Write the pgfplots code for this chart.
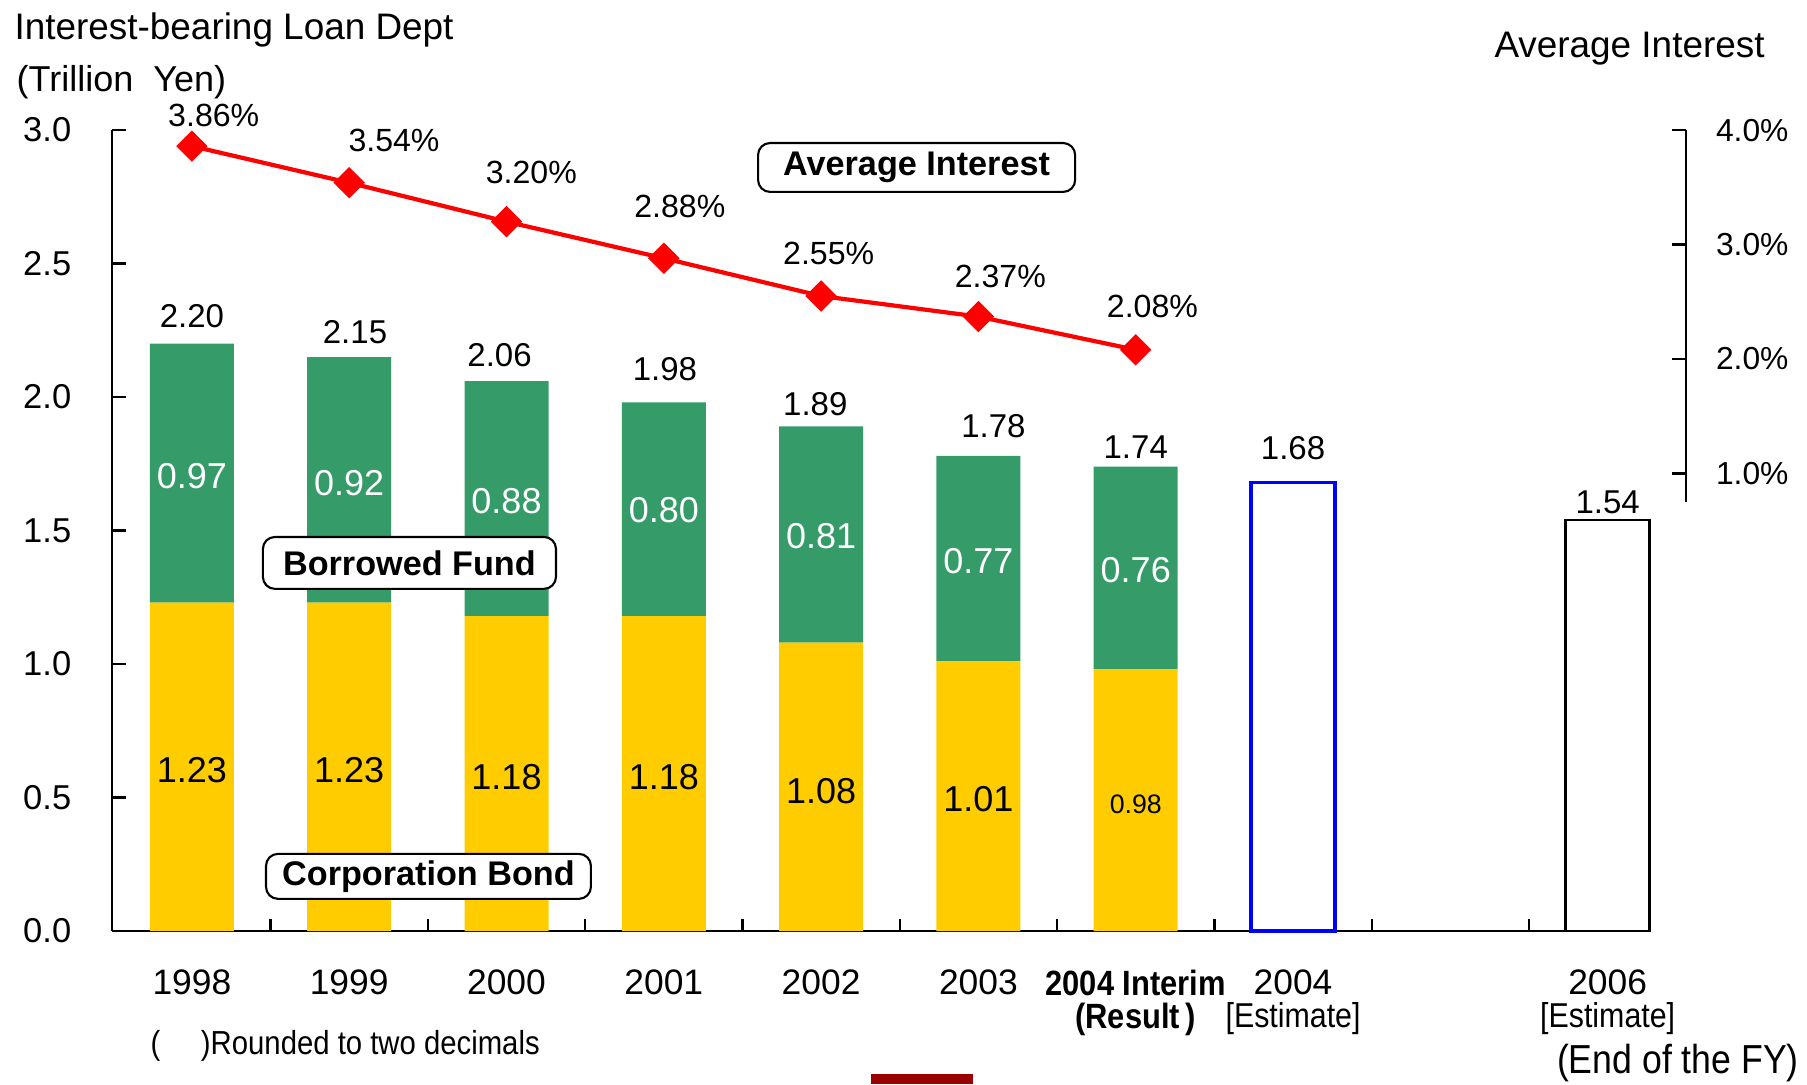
\documentclass[border=0pt]{standalone}
\usepackage{pgfplots}
\pgfplotsset{compat=1.18}
\usepackage{pgfplotstable}
\usepackage{fontspec}
\setmainfont{Liberation Sans}
\newfontfamily\narrow[FakeStretch=0.88]{Liberation Sans}
\newcommand{\fs}[2]{\fontsize{#1}{#2}\selectfont}
\definecolor{fundgreen}{RGB}{53,155,104}
\definecolor{bondyellow}{RGB}{255,204,0}
\definecolor{darkred}{RGB}{153,0,0}

\pgfplotstableread{
x bond fund
0 1.23 0.97
1 1.23 0.92
2 1.18 0.88
3 1.18 0.80
4 1.08 0.81
5 1.01 0.77
6 0.98 0.76
}\stackdata

\pgfplotstableread{
x y label
0 2.304 2.20
1.037 2.244 2.15
1.956 2.158 2.06
3.007 2.106 1.98
3.963 1.972 1.89
5.095 1.890 1.78
6 1.813 1.74
7 1.808 1.68
9 1.605 1.54
}\toplabels

\pgfplotstableread{
x y label
0 1.704 0.97
1 1.679 0.92
2 1.610 0.88
3 1.575 0.80
4 1.480 0.81
5 1.385 0.77
6 1.351 0.76
}\fundlabels

\pgfplotstableread{
x y label
0 0.603 1.23
1 0.603 1.23
2 0.578 1.18
3 0.578 1.18
4 0.526 1.08
5 0.496 1.01
}\bondlabels

\pgfplotstableread{
x pct
0 3.86
1 3.54
2 3.20
3 2.88
4 2.55
5 2.37
6 2.08
}\pctdata

\pgfplotstableread{
x y label
0.139 4.126 3.86
1.285 3.909 3.54
2.158 3.627 3.20
3.102 3.335 2.88
4.048 2.922 2.55
5.139 2.720 2.37
6.106 2.459 2.08
}\pctlabels

\pgfplotsset{
  base/.style={scale only axis, width=513.2pt, height=267pt,
    at={(0pt,0pt)}, anchor=south west,
    xmin=-0.509, xmax=9.278},
}

\begin{document}
\begin{tikzpicture}
\useasboundingbox (-37.27pt,-50.97pt) rectangle (565.07pt,310.37pt);

% main axis with stacked bars
\begin{axis}[base, ymin=0, ymax=3,
  axis x line*=bottom, axis y line*=left,
  axis line style={line width=0.8pt, black},
  ybar stacked, bar width=28pt,
  xtick={0,1,2,3,4,5,6,7,9},
  xticklabels={1998,1999,2000,2001,2002,2003,
    {\narrow\bfseries\fs{11.7}{11.5}2004 Interim\\\narrow\bfseries\fs{11.7}{11.5}(Result\,)},
    {2004\\\narrow\fs{11.5}{11}[Estimate]},
    {2006\\\narrow\fs{11.5}{11}[Estimate]}},
  xticklabel style={font=\fs{11.8}{11}, align=center, anchor=north, yshift=-9.5pt},
  major x tick style={draw=none},
  minor xtick={0.5,1.5,2.5,3.5,4.5,5.5,6.5,7.5,8.5},
  minor x tick style={draw=black, line width=0.8pt},
  minor tick length=4pt,
  ytick={0,0.5,1,1.5,2,2.5,3},
  yticklabels={0.0,0.5,1.0,1.5,2.0,2.5,3.0},
  yticklabel style={font=\fs{11.5}{13}, xshift=-10pt},
  major y tick style={draw=black, line width=0.8pt},
  tick align=inside, major tick length=4.7pt,
]
\addplot[fill=bondyellow, draw=none] table[x=x, y=bond] {\stackdata};
\addplot[fill=fundgreen, draw=none] table[x=x, y=fund] {\stackdata};
\end{axis}

% outlined bars, labels, legend boxes (same left scale)
\begin{axis}[base, ymin=0, ymax=3, hide axis, clip=false]
\addplot[ybar, bar width=28pt, bar shift=0pt, draw=blue, line width=1.1pt, fill=white] coordinates {(7,1.68)};
\addplot[ybar, bar width=28pt, bar shift=0pt, draw=black, line width=0.8pt, fill=white] coordinates {(9,1.54)};
\addplot[draw=none, mark=none, nodes near coords, point meta=explicit symbolic,
  nodes near coords align=center,
  every node near coord/.append style={font=\fs{11}{12}, text=black, inner sep=0pt}]
  table[x=x, y=y, meta=label] {\toplabels};
\addplot[draw=none, mark=none, nodes near coords, point meta=explicit symbolic,
  nodes near coords align=center,
  every node near coord/.append style={font=\fs{12}{13}, text=white, inner sep=0pt}]
  table[x=x, y=y, meta=label] {\fundlabels};
\addplot[draw=none, mark=none, nodes near coords, point meta=explicit symbolic,
  nodes near coords align=center,
  every node near coord/.append style={font=\fs{12}{13}, text=black, inner sep=0pt}]
  table[x=x, y=y, meta=label] {\bondlabels};
\addplot[draw=none, mark=none, nodes near coords, point meta=explicit symbolic,
  nodes near coords align=center,
  every node near coord/.append style={font=\fs{8.9}{10}, text=black, inner sep=0pt}]
  coordinates {(6,0.474) [0.98]};
\node[draw=black, line width=0.7pt, fill=white, rounded corners=4pt, minimum width=105.7pt, minimum height=16.3pt, inner sep=0pt, font=\bfseries\fs{11.4}{13}] at (axis cs:4.607,2.860) {Average Interest};
\node[draw=black, line width=0.7pt, fill=white, rounded corners=4pt, minimum width=97.7pt, minimum height=17.3pt, inner sep=0pt, font=\bfseries\fs{11.4}{13}] at (axis cs:1.383,1.379) {Borrowed Fund};
\node[draw=black, line width=0.7pt, fill=white, rounded corners=4pt, minimum width=108.3pt, minimum height=15pt, inner sep=0pt, font=\bfseries\fs{11.4}{13}] at (axis cs:1.504,0.205) {Corporation Bond};
\end{axis}

% average interest line (percent scale)
\begin{axis}[base, ymin=-3, ymax=4, hide axis, clip=false]
\addplot[red, line width=1.4pt, mark=square*, mark size=3pt,
  mark options={rotate=45, solid, fill=red, draw=red}]
  table[x=x, y=pct] {\pctdata};
\addplot[draw=none, mark=none, nodes near coords={\pgfplotspointmeta\%}, point meta=explicit symbolic,
  nodes near coords align=center,
  every node near coord/.append style={font=\fs{10.7}{12}, text=black, inner sep=0pt}]
  table[x=x, y=y, meta=label] {\pctlabels};
\end{axis}

% right axis
\begin{axis}[scale only axis, width=20pt, height=123.9pt,
  at={(524.7pt,143.1pt)}, anchor=south east,
  xmin=0, xmax=1, ymin=0.753, ymax=4,
  hide x axis, axis y line*=right,
  axis line style={line width=0.8pt, black},
  ytick={1,2,3,4}, yticklabels={1.0\%,2.0\%,3.0\%,4.0\%},
  yticklabel style={font=\fs{10.6}{12}, xshift=6.5pt},
  tick align=inside, major tick length=4.7pt,
  major y tick style={draw=black, line width=0.8pt}]
\addplot[draw=none] coordinates {(0,1)};
\end{axis}

\node[anchor=base west, inner sep=0pt, font=\fs{12.3}{14}] at (-32.6pt,297.3pt) {Interest-bearing Loan Dept};
\node[anchor=base west, inner sep=0pt, font=\fs{12}{14}] at (-31.9pt,279.8pt) {(Trillion\ \ Yen)};
\node[anchor=base west, inner sep=0pt, font=\fs{12.3}{14}] at (460.7pt,291.2pt) {Average Interest};
\node[anchor=base west, inner sep=0pt] at (12.7pt,-41pt) {\narrow\fs{11.1}{13}(\ \ \ \ \ )Rounded to two decimals};
\node[anchor=base east, inner sep=0pt] at (562.5pt,-47.5pt) {\narrow\fs{13.5}{15}(End of the FY)};
\fill[darkred] (253.1pt,-47.6pt) rectangle (287.1pt,-51pt);
\end{tikzpicture}
\end{document}
